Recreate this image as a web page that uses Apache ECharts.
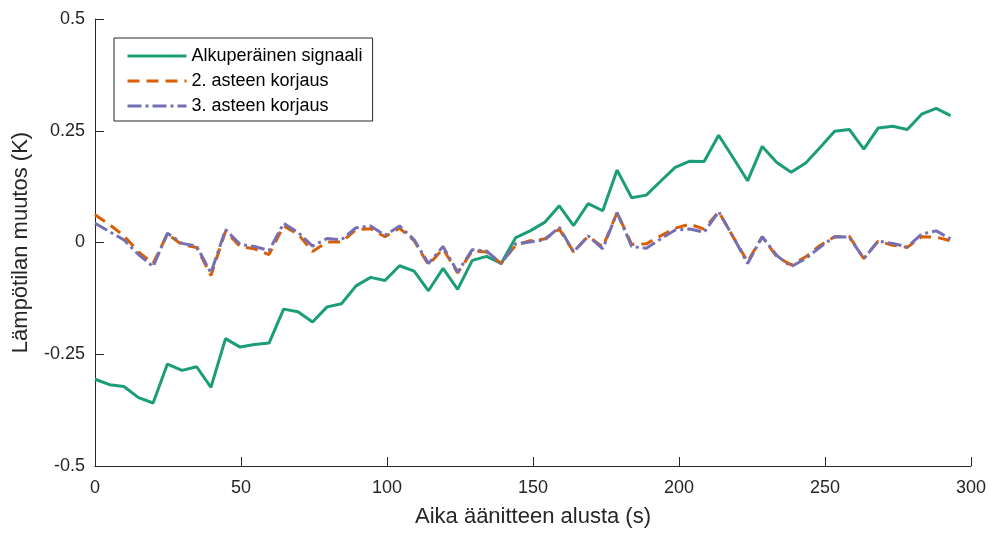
<!DOCTYPE html>
<html>
<head>
<meta charset="utf-8">
<script src="https://cdn.jsdelivr.net/npm/echarts@6/dist/echarts.min.js"></script>
<style>
html,body{margin:0;padding:0;background:#fff;overflow:hidden;}
#c{width:989px;height:533px;}
</style>
</head>
<body>
<div id="c"></div>
<script>
const times = [0, 5.0, 9.9, 14.9, 19.9, 24.8, 29.8, 34.8, 39.7, 44.7, 49.7, 54.6, 59.6, 64.6, 69.5, 74.5, 79.5, 84.4, 89.4, 94.4, 99.3, 104.3, 109.3, 114.2, 119.2, 124.2, 129.2, 134.1, 139.1, 144.1, 149.0, 154.0, 159.0, 163.9, 168.9, 173.9, 178.8, 183.8, 188.8, 193.7, 198.7, 203.7, 208.6, 213.6, 218.6, 223.5, 228.5, 233.5, 238.4, 243.4, 248.4, 253.3, 258.3, 263.3, 268.2, 273.2, 278.2, 283.1, 288.1, 293.0];
const original = [-0.306, -0.318, -0.322, -0.347, -0.359, -0.272, -0.286, -0.278, -0.324, -0.215, -0.234, -0.228, -0.225, -0.149, -0.155, -0.178, -0.144, -0.137, -0.097, -0.078, -0.085, -0.052, -0.064, -0.108, -0.058, -0.105, -0.040, -0.031, -0.047, 0.011, 0.026, 0.045, 0.082, 0.038, 0.087, 0.071, 0.162, 0.100, 0.106, 0.137, 0.168, 0.182, 0.181, 0.240, 0.189, 0.138, 0.215, 0.179, 0.157, 0.178, 0.213, 0.249, 0.253, 0.209, 0.256, 0.260, 0.253, 0.287, 0.300, 0.284];
const corr2 = [0.062, 0.040, 0.015, -0.021, -0.047, 0.019, -0.005, -0.011, -0.074, 0.025, -0.009, -0.014, -0.027, 0.037, 0.019, -0.020, 0.001, 0.001, 0.029, 0.031, 0.013, 0.032, 0.004, -0.050, -0.014, -0.068, -0.019, -0.021, -0.047, -0.006, 0.004, 0.008, 0.030, -0.021, 0.014, -0.010, 0.067, -0.004, -0.003, 0.015, 0.032, 0.041, 0.030, 0.069, 0.012, -0.043, 0.013, -0.032, -0.050, -0.032, -0.006, 0.013, 0.014, -0.036, 0.003, -0.006, -0.011, 0.013, 0.012, 0.004];
const corr3 = [0.043, 0.024, 0.006, -0.027, -0.054, 0.021, -0.002, -0.008, -0.068, 0.029, -0.004, -0.009, -0.018, 0.043, 0.023, -0.008, 0.009, 0.006, 0.033, 0.037, 0.016, 0.037, 0.006, -0.047, -0.009, -0.066, -0.016, -0.019, -0.047, -0.003, 0.001, 0.006, 0.034, -0.021, 0.015, -0.014, 0.067, -0.009, -0.013, 0.008, 0.028, 0.030, 0.023, 0.069, 0.012, -0.047, 0.013, -0.029, -0.054, -0.036, -0.010, 0.013, 0.012, -0.036, 0.003, -0.002, -0.010, 0.019, 0.026, 0.008];
const seriesNames = ['Alkuperäinen signaali', '2. asteen korjaus', '3. asteen korjaus'];
const xTitle = 'Aika äänitteen alusta (s)';
const yTitle = 'Lämpötilan muutos (K)';

const pairs = arr => arr.map((v, i) => [times[i], v]);
const FONT = 'Liberation Sans';
const TXT = '#262626';

const chart = echarts.init(document.getElementById('c'), null, {renderer: 'canvas'});
chart.setOption({
  animation: false,
  backgroundColor: '#fff',
  textStyle: {fontFamily: FONT},
  grid: {left: 95, right: 16, top: 19, bottom: 61, containLabel: false},
  legend: {
    show: true,
    orient: 'vertical',
    left: 114,
    top: 38,
    itemWidth: 59,
    itemHeight: 14,
    itemGap: 7,
    padding: [9, 10, 6, 12],
    borderColor: '#262626',
    borderWidth: 1,
    backgroundColor: '#fff',
    itemStyle: {opacity: 0},
    lineStyle: {width: 3},
    textStyle: {fontFamily: FONT, fontSize: 18, color: '#000'},
    data: seriesNames
  },
  xAxis: {
    type: 'value',
    min: 0, max: 300, interval: 50,
    name: xTitle,
    nameLocation: 'middle',
    nameGap: 40,
    nameTextStyle: {fontFamily: FONT, fontSize: 22, color: TXT},
    axisLine: {show: true, onZero: false, lineStyle: {color: TXT, width: 1}},
    axisTick: {show: true, inside: true, length: 9, lineStyle: {color: TXT}},
    axisLabel: {fontFamily: FONT, fontSize: 18, color: TXT, margin: 13},
    splitLine: {show: false}
  },
  yAxis: {
    type: 'value',
    min: -0.5, max: 0.5, interval: 0.25,
    name: yTitle,
    nameLocation: 'middle',
    nameGap: 63,
    nameTextStyle: {fontFamily: FONT, fontSize: 22, color: TXT},
    axisLine: {show: true, onZero: false, lineStyle: {color: TXT, width: 1}},
    axisTick: {show: true, inside: true, length: 9, lineStyle: {color: TXT}},
    axisLabel: {fontFamily: FONT, fontSize: 18, color: TXT, margin: 10},
    splitLine: {show: false}
  },
  series: [
    {
      name: seriesNames[0], type: 'line', data: pairs(original),
      symbol: 'none', color: '#1b9e77',
      lineStyle: {color: '#1b9e77', width: 3, type: 'solid'}
    },
    {
      name: seriesNames[1], type: 'line', data: pairs(corr2),
      symbol: 'none', color: '#d95f02',
      lineStyle: {color: '#d95f02', width: 3, type: [12, 7]}
    },
    {
      name: seriesNames[2], type: 'line', data: pairs(corr3),
      symbol: 'none', color: '#7570b3',
      lineStyle: {color: '#7570b3', width: 3, type: [14, 4, 3, 4]}
    }
  ]
});
</script>
</body>
</html>
